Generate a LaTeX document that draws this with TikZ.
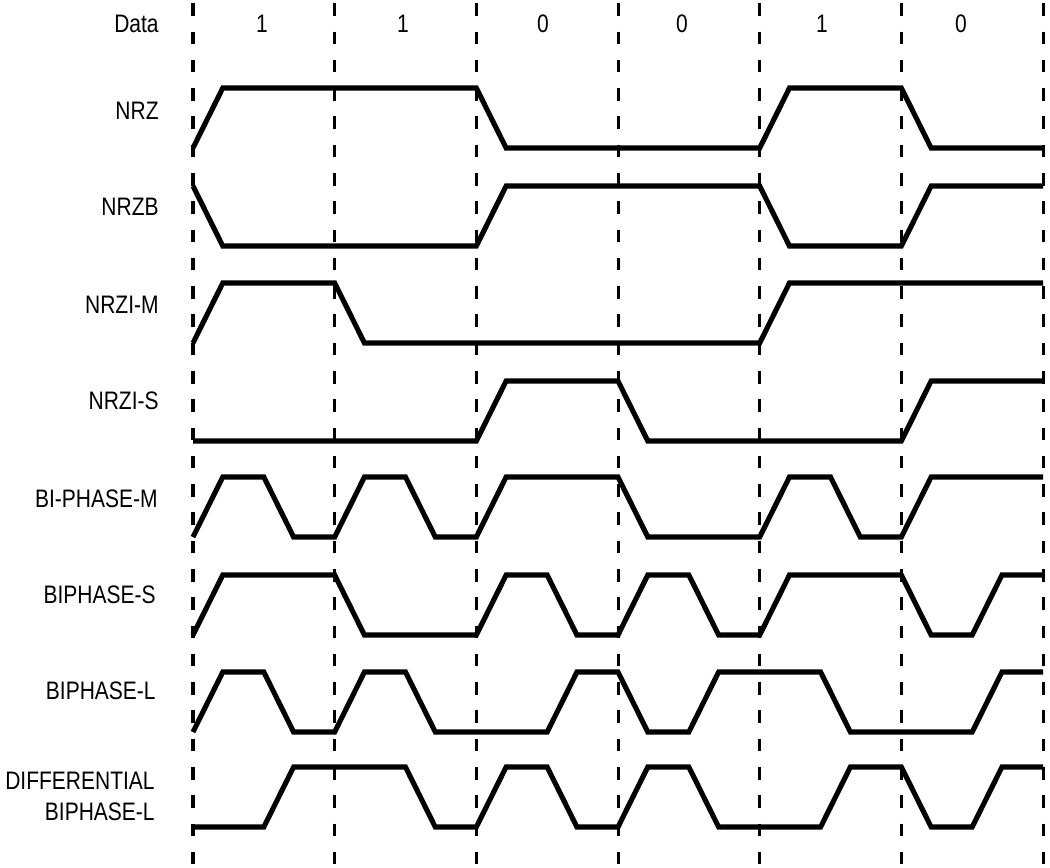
\documentclass[tikz,border=0pt]{standalone}
\usepackage{fontspec}
\setmainfont{Liberation Sans}[FakeStretch=0.83]

\begin{document}
\begin{tikzpicture}[x=0.02cm, y=-0.02cm,
    lbl/.style={anchor=east, inner sep=0pt, font=\fontsize{14.4}{17.6}\selectfont},
    bit/.style={inner sep=0pt, font=\fontsize{14.4}{17.6}\selectfont},
    clk/.style={line width=1.75pt, dash pattern=on 7.1pt off 9pt},
    sig/.style={line width=2.9pt, x=2.834cm}]
  \useasboundingbox (0,0) rectangle (1050,867);
  % bit boundaries
  \foreach \i in {0,...,6}
    \draw[clk] ({193+141.7*\i},3.3) -- ({193+141.7*\i},867);
  % data bits
  \node[lbl] (data) at (159,24) {Data};
  \foreach \b/\x [count=\i] in {1/262, 1/403, 0/543, 0/682, 1/822, 0/961}
    \node[bit] (bit\i) at (\x,24) {\b};
  % row names
  \node[lbl] (nrz) at (159,111) {NRZ};
  \node[lbl] (nrzb) at (159,207) {NRZB};
  \node[lbl] (nrzim) at (159,305) {NRZI-M};
  \node[lbl] (nrzis) at (159,401) {NRZI-S};
  \node[lbl] (bpm) at (158,499) {BI-PHASE-M};
  \node[lbl] (bps) at (156,595) {BIPHASE-S};
  \node[lbl] (bpl) at (156,691) {BIPHASE-L};
  \node[lbl, align=right] (dbpl) at (155,796) {DIFFERENTIAL\\BIPHASE-L};
  % waveforms (x in bit periods, 0 = high, 60 = low)
  \draw[shift={(193,88)}, sig] (0,60) -- (.21,0) -- (2,0) -- (2.21,60) -- (4,60)
    -- (4.21,0) -- (5,0) -- (5.21,60) -- (6,60);
  \draw[shift={(193,186)}, sig] (0,0) -- (.21,60) -- (2,60) -- (2.21,0) -- (4,0)
    -- (4.21,60) -- (5,60) -- (5.21,0) -- (6,0);
  \draw[shift={(193,283)}, sig] (0,60) -- (.21,0) -- (1,0) -- (1.21,60) -- (4,60)
    -- (4.21,0) -- (6,0);
  \draw[shift={(193,381)}, sig] (0,60) -- (2,60) -- (2.21,0) -- (3,0) -- (3.21,60)
    -- (5,60) -- (5.21,0) -- (6,0);
  \draw[shift={(193,477)}, sig] (0,60) -- (.21,0) -- (.5,0) -- (.71,60) -- (1,60)
    -- (1.21,0) -- (1.5,0) -- (1.71,60) -- (2,60) -- (2.21,0) -- (3,0) -- (3.21,60)
    -- (4,60) -- (4.21,0) -- (4.5,0) -- (4.71,60) -- (5,60) -- (5.21,0) -- (6,0);
  \draw[shift={(193,575)}, sig] (0,60) -- (.21,0) -- (1,0) -- (1.21,60) -- (2,60)
    -- (2.21,0) -- (2.5,0) -- (2.71,60) -- (3,60) -- (3.21,0) -- (3.5,0) -- (3.71,60)
    -- (4,60) -- (4.21,0) -- (5,0) -- (5.21,60) -- (5.5,60) -- (5.71,0) -- (6,0);
  \draw[shift={(193,672)}, sig] (0,60) -- (.21,0) -- (.5,0) -- (.71,60) -- (1,60)
    -- (1.21,0) -- (1.5,0) -- (1.71,60) -- (2.5,60) -- (2.71,0) -- (3,0) -- (3.21,60)
    -- (3.5,60) -- (3.71,0) -- (4.43,0) -- (4.64,60) -- (5.5,60) -- (5.71,0) -- (6,0);
  \draw[shift={(193,767)}, sig] (0,60) -- (.5,60) -- (.71,0) -- (1.5,0) -- (1.71,60)
    -- (2,60) -- (2.21,0) -- (2.5,0) -- (2.71,60) -- (3,60) -- (3.21,0) -- (3.5,0)
    -- (3.71,60) -- (4.43,60) -- (4.64,0) -- (5,0) -- (5.21,60) -- (5.5,60) -- (5.71,0)
    -- (6,0);
\end{tikzpicture}
\end{document}
